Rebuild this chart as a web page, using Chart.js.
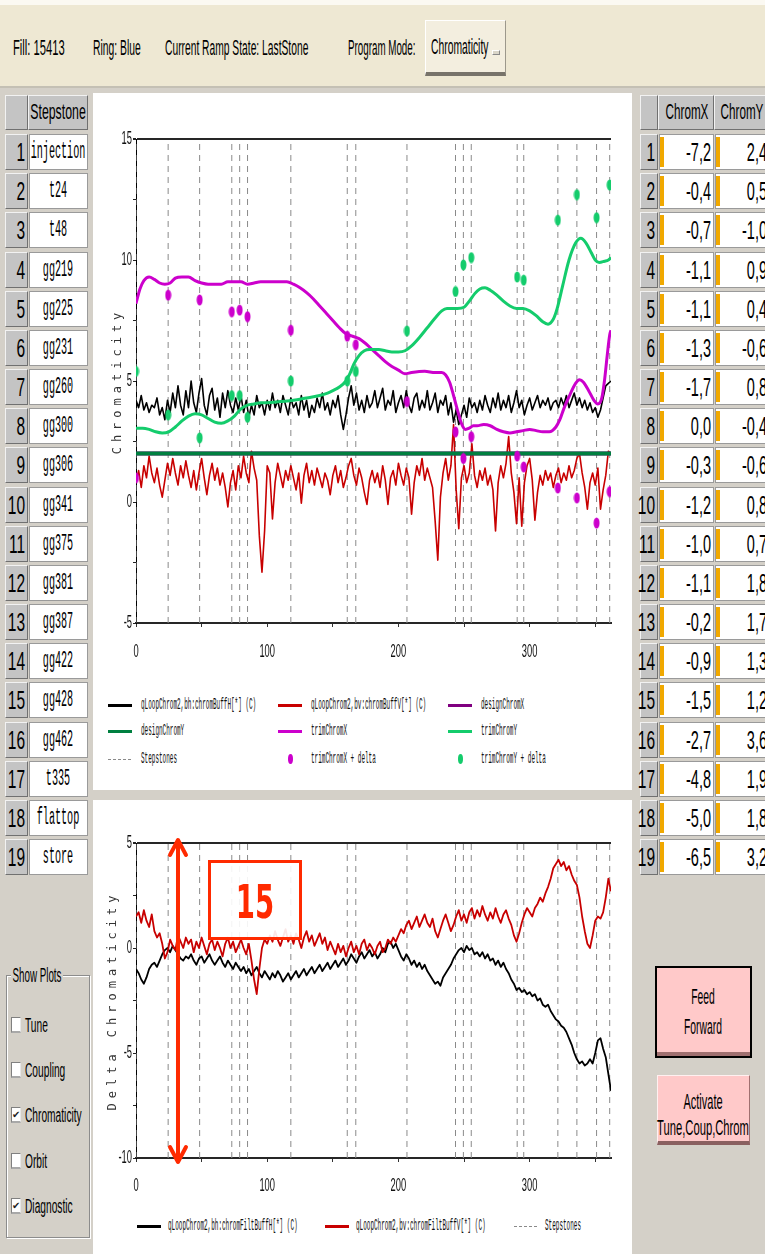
<!DOCTYPE html>
<html><head><meta charset="utf-8"><title>Chromaticity</title>
<script src="https://cdn.jsdelivr.net/npm/chart.js@4.4.1/dist/chart.umd.min.js"></script>
<style>
html,body{margin:0;padding:0}
body{width:765px;height:1254px;position:relative;overflow:hidden;background:#d4d0c8}
.box{position:absolute;box-sizing:border-box}
.raised{background:#c4c4c4;border-top:1px solid #f2f2f2;border-left:1px solid #f2f2f2;border-right:1px solid #707070;border-bottom:1px solid #707070}
.cell{background:#fff;border:1px solid #9a9a9a}
.t{position:absolute;white-space:nowrap;line-height:1}
canvas{position:absolute}
</style></head><body>
<canvas id="c1" width="539" height="567" style="left:93px;top:93px"></canvas>
<canvas id="c2" width="539" height="400" style="left:93px;top:800px"></canvas>
<script>
// ---------------- DATA ----------------
const stepstoneNames = ['injection','t24','t48','gg219','gg225','gg231','gg260','gg300','gg306','gg341','gg375','gg381','gg387','gg422','gg428','gg462','t335','flattop','store'];
const stepstoneX = [0,24.5,48.5,73,79,85,118,161,167.5,206.5,243.5,249.5,255.5,290.5,295.5,321.5,336,351,361];
const chromX = [-7.2,-0.4,-0.7,-1.1,-1.1,-1.3,-1.7,0.0,-0.3,-1.2,-1.0,-1.1,-0.2,-0.9,-1.5,-2.7,-4.8,-5.0,-6.5];
const chromY = [2.4,0.5,-1.0,0.9,0.4,-0.6,0.8,-0.4,-0.6,0.8,0.7,1.8,1.7,1.3,1.2,3.6,1.9,1.8,3.2];

const xTickValues = [0,50,100,150,200,250,300,350];
const xTickLabels = [0,100,200,300];
const yTicksTop = [-5,-2.5,0,2.5,5,7.5,10,12.5,15];
const yLabelsTop = [-5,0,5,10,15];
const yTicksBottom = [-10,-7.5,-5,-2.5,0,2.5,5];
const yLabelsBottom = [-10,-5,0,5];

const BUF_STEP = 2; // buffer sample spacing on the x axis

// top chart: raw buffers
const bhBuff = [4.2,3.9,4.4,3.8,4.1,3.7,4.0,3.9,4.3,3.6,3.9,
 3.4,4.2,3.7,4.5,3.9,4.8,4.0,3.6,4.6,3.9,
 5.0,4.1,3.7,4.5,5.1,4.0,3.6,4.4,4.7,3.8,
 4.3,3.5,4.5,3.9,4.6,4.0,3.7,4.3,3.8,4.4,
 3.7,4.2,3.5,4.0,3.6,4.4,3.9,4.1,3.6,4.2,
 3.8,4.5,3.9,4.2,3.7,4.4,4.0,3.6,4.3,3.9,
 4.1,3.6,4.4,3.8,4.2,3.5,4.0,3.7,4.3,3.9,
 4.5,3.8,4.1,3.6,4.2,3.9,4.4,3.6,3.0,3.6,
 4.3,4.8,4.0,4.5,3.8,4.2,3.7,4.4,3.9,4.1,
 4.6,3.9,4.3,4.7,3.8,4.2,4.0,4.6,3.7,4.1,
 4.4,3.9,4.6,4.0,3.7,4.3,4.5,3.8,4.2,3.9,
 4.6,3.8,4.1,4.5,3.7,4.2,4.0,4.4,3.6,4.1,
 3.3,3.8,3.2,3.6,4.0,3.5,4.3,3.9,4.1,3.7,
 4.2,3.8,4.4,4.0,3.7,4.3,3.9,4.5,3.8,4.2,
 3.9,4.4,3.7,4.1,4.6,3.9,4.2,3.6,4.0,4.3,
 3.8,4.1,4.4,3.9,4.2,4.0,4.3,3.8,4.1,4.2,
 3.9,4.3,4.0,4.4,3.9,4.2,4.5,4.0,4.3,3.9,
 4.2,3.8,4.1,3.7,3.9,3.5,3.8,4.3,4.8,4.9,
 5.0];
const bvBuff = [0.8,1.3,0.6,1.5,1.0,1.9,1.2,0.8,1.4,0.7,0.2,
 0.9,1.6,1.1,1.8,1.2,0.7,1.5,1.0,1.7,1.1,
 0.6,1.3,0.5,1.2,1.8,1.0,0.3,1.1,1.6,0.9,
 1.4,0.7,1.2,0.6,-0.2,0.8,1.3,0.5,1.5,1.0,
 1.9,1.2,0.8,2.1,1.4,0.9,-1.4,-2.9,-1.2,1.5,
 1.2,-0.7,0.8,1.6,1.1,0.6,1.3,0.9,1.5,1.0,
 0.5,1.2,-0.05,1.1,1.6,0.8,1.3,0.7,1.4,1.0,
 0.6,1.2,0.9,0.3,1.1,1.5,0.8,1.3,0.6,1.0,
 1.5,1.8,1.1,0.7,1.4,1.0,0.4,-0.1,0.9,1.3,
 0.8,1.2,0.6,1.5,0.9,-0.1,1.0,1.3,0.7,1.6,
 1.1,0.7,1.4,1.0,-0.5,0.8,1.5,1.1,1.8,0.9,
 1.4,1.0,0.6,-0.8,-2.4,0.2,1.2,1.8,0.9,1.5,
 3.2,0.5,-1.1,1.0,1.5,0.8,1.2,2.4,1.1,0.6,
 1.3,0.9,1.4,0.7,1.1,0.5,-1.2,0.8,1.5,1.0,
 1.6,2.7,1.2,0.4,-0.9,1.0,-1.0,0.8,1.5,1.8,
 0.9,-0.75,0.4,1.1,0.7,1.3,0.9,1.2,0.6,1.1,
 1.4,0.8,1.2,0.9,1.5,1.0,1.3,1.8,2.0,1.2,
 0.6,-0.3,0.8,1.2,0.7,1.4,-0.3,0.5,1.1,2.1,
 2.0];

const designPos = [0,362];
const designXVal = [2,2];
const designYVal = [2,2];

const trimXPos = [0,3,6,10,14,18,22,26,30,35,40,45,50,55,60,65,70,75,80,85,90,95,100,110,115,120,125,130,135,140,145,150,155,160,165,170,175,180,185,190,195,200,205,210,220,228,233,236,239,242,245,248,251,254,257,260,265,270,275,280,285,290,295,300,305,310,315,320,323,326,330,335,338,341,345,349,352,355,357,359,361,362];
const trimXVal = [8.2,8.8,9.15,9.3,9.2,9.05,9.0,9.05,9.25,9.3,9.3,9.15,9.05,9.0,9.0,9.0,9.1,9.1,9.1,9.0,9.05,9.1,9.1,9.1,9.1,9.0,8.85,8.65,8.4,8.1,7.8,7.5,7.2,6.95,6.85,6.75,6.55,6.3,6.05,5.8,5.6,5.45,5.3,5.35,5.4,5.35,5.35,5.25,4.95,4.4,3.8,3.25,3.0,3.05,3.15,3.15,3.2,3.15,3.0,2.9,2.85,2.9,2.95,3.0,2.95,2.9,2.9,3.1,3.4,3.85,4.35,4.9,5.05,4.95,4.6,4.2,4.05,4.3,5.0,6.0,6.9,7.1];
const trimYPos = [0,5,10,15,20,25,30,35,40,45,50,55,60,65,70,75,80,85,90,95,100,110,120,130,140,146,150,155,160,163,166,170,174,178,185,190,195,200,205,210,216,222,228,233,237,245,250,254,258,262,266,270,275,280,285,290,295,300,305,310,314,318,321,325,330,335,339,343,347,350,353,357,360,362];
const trimYVal = [3.05,3.05,3.0,2.9,2.85,2.9,3.1,3.35,3.55,3.65,3.6,3.45,3.3,3.25,3.35,3.55,3.85,4.0,4.05,4.1,4.1,4.15,4.2,4.3,4.4,4.5,4.6,4.75,5.0,5.3,5.7,6.05,6.25,6.3,6.3,6.25,6.2,6.2,6.25,6.45,6.8,7.2,7.6,7.9,8.0,8.0,8.05,8.3,8.6,8.8,8.85,8.75,8.55,8.3,8.1,8.0,8.0,7.9,7.7,7.45,7.35,7.55,8.0,8.9,10.0,10.7,10.9,10.7,10.3,10.0,9.9,9.95,10.0,10.1];

const trimXDelta = [1.0,8.55,8.35,7.86,7.93,7.66,7.1,6.85,6.5,4.15,2.9,1.8,2.7,1.9,1.45,0.58,0.17,-0.87,0.43];
const trimYDelta = [5.4,3.6,2.65,4.4,4.4,3.5,5.0,5.0,5.4,7.07,8.7,9.8,10.1,9.3,9.17,11.65,12.7,11.75,13.1];

// bottom chart: filtered buffers
const bhFilt = [-1.0,-1.2,-1.5,-1.7,-1.4,-1.0,-0.8,-0.7,-0.9,-0.6,-0.3,
 -0.1,0.0,-0.2,0.1,-0.1,-0.3,-0.5,-0.6,-0.4,-0.5,
 -0.3,-0.6,-0.8,-0.5,-0.4,-0.7,-0.5,-0.3,-0.6,-0.8,
 -0.6,-0.4,-0.7,-0.9,-0.6,-0.8,-1.0,-0.7,-0.9,-1.1,
 -0.9,-1.2,-1.0,-1.3,-1.1,-0.9,-1.2,-1.4,-1.1,-1.3,
 -1.5,-1.2,-1.4,-1.1,-1.3,-1.6,-1.4,-1.2,-1.5,-1.3,
 -1.1,-1.4,-1.2,-1.0,-1.3,-1.1,-0.9,-1.2,-1.0,-0.8,
 -1.1,-0.9,-0.7,-1.0,-0.8,-0.6,-0.9,-0.7,-0.5,-0.8,
 -0.6,-0.3,-0.5,-0.7,-0.4,-0.2,-0.5,-0.3,-0.1,-0.4,
 -0.2,-0.5,-0.3,0.0,-0.2,0.2,0.3,0.0,0.2,-0.1,
 -0.4,-0.6,-0.3,-0.5,-0.8,-0.6,-0.9,-0.7,-1.0,-0.8,
 -1.1,-1.3,-1.5,-1.7,-1.6,-1.8,-1.4,-1.2,-1.0,-0.8,
 -0.5,-0.3,-0.1,0.0,-0.2,0.1,-0.1,0.0,-0.3,-0.2,
 -0.4,-0.2,-0.5,-0.3,-0.6,-0.5,-0.8,-0.6,-0.9,-0.7,
 -1.0,-1.2,-1.5,-1.7,-2.0,-1.9,-2.1,-2.0,-2.2,-2.1,
 -2.3,-2.2,-2.5,-2.4,-2.7,-2.8,-2.7,-3.0,-3.2,-3.4,
 -3.5,-3.7,-3.8,-4.0,-4.3,-4.6,-5.0,-5.3,-5.5,-5.4,
 -5.6,-5.5,-5.3,-5.5,-5.0,-4.4,-4.3,-4.8,-5.2,-6.0,
 -6.8];
const bvFilt = [1.5,1.7,1.2,1.8,1.3,1.0,1.6,0.8,0.5,0.7,0.2,
 -0.5,-0.2,0.4,0.1,-0.1,0.6,0.3,0.0,0.5,0.2,
 0.4,-0.2,0.3,0.0,0.5,0.1,-0.3,0.2,0.4,-0.1,
 0.3,0.0,-0.4,0.2,0.5,0.0,0.3,-0.2,0.1,0.4,
 0.0,-0.3,0.2,-0.6,-1.5,-2.2,-1.0,0.0,0.4,0.2,
 0.6,0.3,0.8,0.4,0.1,0.5,0.9,0.3,0.6,0.2,
 0.7,0.4,0.0,0.5,0.8,0.3,0.6,0.1,0.4,0.7,
 0.2,0.5,-0.1,0.3,0.0,-0.3,0.2,-0.2,0.1,-0.4,
 0.0,0.3,-0.2,0.1,-0.3,0.2,0.4,-0.1,0.2,0.0,
 -0.3,0.1,0.3,-0.2,0.0,0.4,0.2,0.5,0.3,0.6,
 0.9,0.7,1.1,1.3,0.9,1.2,1.5,1.0,1.3,1.6,
 1.2,1.0,1.4,0.8,0.5,0.9,1.3,1.6,1.2,0.8,
 1.1,1.5,1.8,1.3,1.6,1.2,1.7,1.9,1.4,1.8,
 1.5,2.0,1.6,1.3,1.7,1.4,1.9,1.5,1.2,1.6,
 1.8,1.4,1.1,0.6,0.3,0.7,1.2,1.6,1.9,1.7,
 1.5,1.9,2.1,2.4,2.2,2.6,2.9,3.3,3.8,4.0,
 4.2,3.9,4.1,3.7,3.9,3.5,3.2,3.0,2.4,1.5,
 0.8,0.2,0.0,0.6,1.3,1.5,1.4,1.7,2.4,3.3,
 2.7];

const ANNO_X = 32;      // x position of the range arrow annotation
const ANNO_TEXT = '15';

// ---------------- UI ----------------
const SANS = "'Liberation Sans',Arial,sans-serif";
const MONO = "'Liberation Mono','DejaVu Sans Mono',monospace";
const TMONO = "'DejaVu Sans Mono','Liberation Mono',monospace";

function box(x,y,w,h,cls,style){
  const d=document.createElement('div'); d.className='box '+(cls||'');
  d.style.left=x+'px'; d.style.top=y+'px'; d.style.width=w+'px'; d.style.height=h+'px';
  if(style) d.style.cssText += style;
  document.body.appendChild(d); return d;
}
function T(text,x,y,o){
  o=o||{};
  const s=document.createElement('div'); s.className='t'; s.textContent=text;
  const align=o.align||'left', sx=o.sx||1;
  s.style.fontFamily=o.family||SANS; s.style.fontSize=(o.size||17)+'px';
  s.style.color=o.color||'#000'; s.style.fontWeight=o.weight||'normal';
  s.style.left=x+'px'; s.style.top=y+'px';
  const tx = align==='center'?'-50%':align==='right'?'-100%':'0';
  s.style.transformOrigin = align==='center'?'50% 50%':align==='right'?'100% 50%':'0 50%';
  s.style.transform='translate('+tx+',-50%) scaleX('+sx+')';
  if(o.bg){s.style.background=o.bg;s.style.padding='0 3px';}
  document.body.appendChild(s); return s;
}

// top bar
box(0,0,765,88,'','background:#eee8d3;border-top:5px solid #fbf9f2;border-bottom:2px solid #c4c0b4;');
T('Fill: 15413',13,48,{size:22,sx:0.51});
T('Ring: Blue',93,48,{size:22,sx:0.47});
T('Current Ramp State: LastStone',165,48,{size:22,sx:0.467});
T('Program Mode:',348,48,{size:22,sx:0.445});
box(425,20,81,56,'','background:#f3eedf;border-top:1px solid #fff;border-left:1px solid #fff;border-right:1px solid #9c988c;border-bottom:4px solid #77736a;');
T('Chromaticity',431,47,{size:22,sx:0.47});
box(492,50,8,5,'','background:#d9d5c9;border-top:1px solid #fff;border-left:1px solid #fff;border-right:1px solid #888;border-bottom:1px solid #888;');

// white chart panels
box(93,93,539,697,'','background:#fff;z-index:-1;');
box(93,800,539,454,'','background:#fff;z-index:-1;');

// row geometry
const ROW0=134, ROWH=39.17, CELLH=36;

// left table
box(5,95,23,35,'raised');
box(28,95,60,35,'raised');
T('Stepstone',58,112,{align:'center',size:22,sx:0.56});
stepstoneNames.forEach((n,i)=>{
  const y=ROW0+i*ROWH;
  box(5,y,23,CELLH,'raised');
  T(String(i+1),25,y+CELLH/2,{align:'right',size:25,sx:0.62});
  box(29,y,59,CELLH,'cell');
  T(n,58,y+CELLH/2,{align:'center',family:MONO,size:23,sx:0.44});
});

// right table
box(640,95,18,35,'raised');
box(658,95,56,35,'raised');
box(714,95,60,35,'raised');
T('ChromX',687,112,{align:'center',size:22,sx:0.53});
T('ChromY',742,112,{align:'center',size:22,sx:0.53});
const fmt=v=>v.toFixed(1).replace('.',',');
chromX.forEach((v,i)=>{
  const y=ROW0+i*ROWH;
  box(640,y,18,CELLH,'raised');
  T(String(i+1),655,y+CELLH/2,{align:'right',size:25,sx:0.62});
  box(659,y,55,CELLH,'cell');
  box(660,y+3,4,CELLH-6,'','background:#f0a800;');
  T(fmt(v),711,y+CELLH/2,{align:'right',size:25,sx:0.58});
  box(715,y,60,CELLH,'cell');
  box(716,y+3,4,CELLH-6,'','background:#f0a800;');
  T(fmt(chromY[i]),767,y+CELLH/2,{align:'right',size:25,sx:0.58});
});

// Show Plots group
box(6,975,84,263,'','border:1px solid #8c8c8c;box-shadow:1px 1px 0 #fff inset,1px 1px 0 #fff;');
T('Show Plots',11,975,{size:20,sx:0.49,bg:'#d4d0c8'});
const plots=[['Tune',false,1025],['Coupling',false,1070],['Chromaticity',true,1115],['Orbit',false,1161],['Diagnostic',true,1206]];
plots.forEach(([n,c,y])=>{
  box(11,y-8,10,16,'','background:#fff;border-top:1px solid #808080;border-left:1px solid #808080;border-right:1px solid #e8e8e8;border-bottom:2px solid #a8a8a8;');
  if(c) T('\u2714',12,y,{family:"'DejaVu Sans',sans-serif",size:10,color:'#222'});
  T(n,25,y,{size:20,sx:0.51});
});

// buttons
box(655,966,97,92,'','background:#ffc9c9;border:2px solid #000;box-shadow:inset 0 -4px 0 #a07070;');
T('Feed',703,997,{align:'center',size:22,sx:0.47});
T('Forward',703,1027,{align:'center',size:22,sx:0.47});
box(657,1075,93,70,'','background:#ffc9c9;border-top:1px solid #fff0f0;border-left:1px solid #fff0f0;border-right:1px solid #a07070;border-bottom:4px solid #8a6060;');
T('Activate',703,1102,{align:'center',size:22,sx:0.5});
T('Tune,Coup,Chrom',703,1128,{align:'center',size:22,sx:0.51});

// annotation box
box(208,860,94,80,'','border:3px solid #ff2a00;background:rgba(255,255,255,0.9);');
T(ANNO_TEXT,255,902,{align:'center',family:"'DejaVu Sans',sans-serif",weight:'bold',size:46,sx:0.6,color:'#ff2a00'});

// ---------------- CHARTS ----------------
const pairs=(xs,ys)=>xs.map((x,i)=>({x:x,y:ys[i]}));
const series=(vals,step)=>vals.map((v,i)=>({x:i*step,y:v}));
function stepLines(xs,lo,hi){const d=[];xs.forEach(x=>{d.push({x:x,y:lo},{x:x,y:hi},{x:x,y:null});});return d;}
function ellipse(color){const c=document.createElement('canvas');c.width=7;c.height=12;const g=c.getContext('2d');g.fillStyle=color;g.beginPath();g.ellipse(3.5,6,3,5.5,0,0,Math.PI*2);g.fill();return c;}

const TITLE_SPACING = '5px';
const LABEL_K = 0.52;   // horizontal squeeze of tick label glyphs (tall narrow screen font)
class NarrowLinear extends Chart.LinearScale {
  _computeLabelItems(ca){
    const items = super._computeLabelItems(ca);
    items.forEach(it=>{ const tr=it.options.translation; it.options.translation=[tr[0]/LABEL_K,tr[1]]; });
    return items;
  }
  _computeLabelArea(){
    const a = super._computeLabelArea();
    if(a){ return {top:a.top,bottom:a.bottom,left:a.left/LABEL_K,right:a.right/LABEL_K}; }
    return a;
  }
  drawLabels(ca){
    const ctx=this.ctx; ctx.save(); ctx.scale(LABEL_K,1);
    super.drawLabels(ca);
    ctx.restore();
  }
  drawTitle(){
    const ctx=this.ctx; ctx.save();
    try{ ctx.letterSpacing = TITLE_SPACING; }catch(e){}
    super.drawTitle();
    ctx.restore();
  }
}
NarrowLinear.id='narrowLinear';
NarrowLinear.defaults=Chart.LinearScale.defaults;
Chart.register(NarrowLinear);

const C = {black:'#000000', red:'#c80000', purple:'#800080', dgreen:'#008040', magenta:'#cc00cc', green:'#14cc6c', step:'#8a8a8a'};
const TICKFONT = {family:SANS,size:18};

function makeOptions(yMin,yMax,yTicks,yLabels,title,titlePad,xHeight,padTop,labelPad){
  return {
    responsive:false, animation:false, devicePixelRatio:1, events:[],
    layout:{padding:{top:padTop,right:21,left:0,bottom:0}},
    elements:{point:{radius:0}, line:{borderJoinStyle:'round'}},
    plugins:{legend:{display:false}, tooltip:{enabled:false}},
    scales:{
      x:{type:'narrowLinear',min:0,max:362,
        afterBuildTicks:s=>{s.ticks=xTickValues.map(v=>({value:v}));},
        afterFit:s=>{s.height=xHeight;},
        ticks:{autoSkip:false,maxRotation:0,padding:labelPad,color:'#111',font:TICKFONT,
          callback:v=>xTickLabels.includes(v)?String(v):''},
        grid:{drawOnChartArea:false,drawTicks:true,tickLength:4,tickColor:'#333'},
        border:{display:true,color:'#262626',width:2}},
      y:{type:'narrowLinear',min:yMin,max:yMax,
        afterBuildTicks:s=>{s.ticks=yTicks.map(v=>({value:v}));},
        afterFit:s=>{s.width=43;},
        ticks:{autoSkip:false,padding:1,color:'#111',font:TICKFONT,
          callback:v=>yLabels.includes(v)?String(v):''},
        grid:{drawTicks:true,tickLength:3,tickColor:'#222',
          color:c=>(c.tick&&c.tick.value===yMax)?'#262626':'rgba(0,0,0,0)',
          lineWidth:c=>(c.tick&&c.tick.value===yMax)?2:1},
        border:{display:true,color:'#000',width:1},
        title:{display:true,text:title,color:'#333',font:{family:TMONO,size:12},padding:{top:titlePad,bottom:0}}}
    }
  };
}

const topDatasets=[
  {label:'qLoopChrom2,bh:chromBuffH[*] (C)',data:series(bhBuff,BUF_STEP),borderColor:C.black,borderWidth:1.6,order:8},
  {label:'qLoopChrom2,bv:chromBuffV[*] (C)',data:series(bvBuff,BUF_STEP),borderColor:C.red,borderWidth:1.6,order:7},
  {label:'designChromX',data:pairs(designPos,designXVal),borderColor:C.purple,borderWidth:4,order:6},
  {label:'designChromY',data:pairs(designPos,designYVal),borderColor:C.dgreen,borderWidth:4,order:5},
  {label:'trimChromX',data:pairs(trimXPos,trimXVal),borderColor:C.magenta,borderWidth:3,cubicInterpolationMode:'monotone',order:4},
  {label:'trimChromY',data:pairs(trimYPos,trimYVal),borderColor:C.green,borderWidth:3,cubicInterpolationMode:'monotone',order:3},
  {label:'Stepstones',data:stepLines(stepstoneX,-5,15),borderColor:C.step,borderWidth:1,borderDash:[6,5],order:10},
  {label:'trimChromX + delta',data:pairs(stepstoneX,trimXDelta),showLine:false,pointStyle:ellipse(C.magenta),pointRadius:3,borderColor:C.magenta,backgroundColor:C.magenta,order:2},
  {label:'trimChromY + delta',data:pairs(stepstoneX,trimYDelta),showLine:false,pointStyle:ellipse(C.green),pointRadius:3,borderColor:C.green,backgroundColor:C.green,order:1}
];
new Chart(document.getElementById('c1'),{type:'line',data:{datasets:topDatasets},
  options:makeOptions(-5,15,yTicksTop,yLabelsTop,'Chromaticity',18,37,46,14)});

const arrowPlugin={id:'rangeArrow',afterDraw(chart){
  const {ctx,scales:{x,y}}=chart;
  const px=x.getPixelForValue(ANNO_X), t=y.getPixelForValue(y.max)-3, b=y.getPixelForValue(y.min)+4;
  ctx.save(); ctx.strokeStyle='#ff2a00'; ctx.lineWidth=4; ctx.lineCap='round'; ctx.lineJoin='round';
  ctx.beginPath(); ctx.moveTo(px,t+1); ctx.lineTo(px,b-1);
  ctx.moveTo(px-8,t+15); ctx.lineTo(px,t); ctx.lineTo(px+8,t+15);
  ctx.moveTo(px-8,b-15); ctx.lineTo(px,b); ctx.lineTo(px+8,b-15);
  ctx.stroke(); ctx.restore();
}};

const botDatasets=[
  {label:'qLoopChrom2,bh:chromFiltBuffH[*] (C)',data:series(bhFilt,BUF_STEP),borderColor:C.black,borderWidth:1.8,order:2},
  {label:'qLoopChrom2,bv:chromFiltBuffV[*] (C)',data:series(bvFilt,BUF_STEP),borderColor:C.red,borderWidth:1.8,order:1},
  {label:'Stepstones',data:stepLines(stepstoneX,-10,5),borderColor:C.step,borderWidth:1,borderDash:[6,5],order:10}
];
new Chart(document.getElementById('c2'),{type:'line',data:{datasets:botDatasets},
  options:makeOptions(-10,5,yTicksBottom,yLabelsBottom,'Delta Chromaticity',13,42,43,13),plugins:[arrowPlugin]});

// ---------------- LEGENDS (HTML) ----------------
function legendItem(ds,lx,y,tx){
  if(ds.showLine===false){
    box(lx+10,y-5,5,10,'','border-radius:50%;background:'+ds.borderColor+';');
  } else if(ds.borderDash){
    box(lx,y,24,1,'','background:repeating-linear-gradient(90deg,'+ds.borderColor+' 0 3px,transparent 3px 5px);');
  } else {
    box(lx,y-1.5,24,3,'','background:'+ds.borderColor+';');
  }
  T(ds.label,tx,y,{family:MONO,size:16,sx:0.375,color:'#111'});
}
const colLine=[108,278,448], rowY=[705,731,759];
topDatasets.forEach((ds,i)=>{
  const r=Math.floor(i/3), c=i%3;
  legendItem(ds,colLine[c],rowY[r],colLine[c]+33);
});
const botLine=[137,325,514];
botDatasets.forEach((ds,i)=>{ legendItem(ds,botLine[i],1226,botLine[i]+31); });
</script>
</body></html>
